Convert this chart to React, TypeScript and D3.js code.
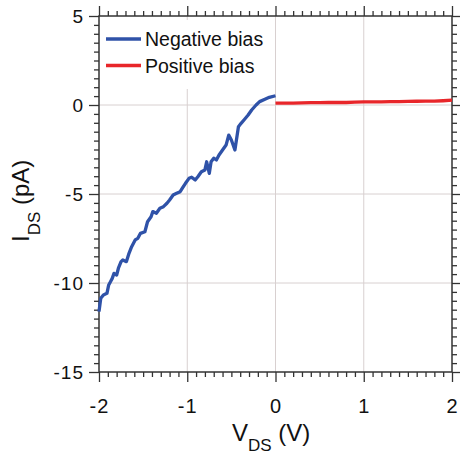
import React, { useEffect, useRef } from 'react';
import * as d3 from 'd3';

// negative bias sweep (V, pA)
const negV = [-2.00, -1.98, -1.95, -1.91, -1.89, -1.87, -1.85, -1.83, -1.80, -1.78, -1.75, -1.73, -1.69, -1.66, -1.63, -1.59, -1.56, -1.53, -1.48, -1.45, -1.41, -1.39, -1.35, -1.31, -1.27, -1.23, -1.20, -1.16, -1.12, -1.08, -1.05, -1.02, -0.98, -0.95, -0.91, -0.88, -0.84, -0.80, -0.78, -0.75, -0.73, -0.70, -0.67, -0.64, -0.60, -0.56, -0.53, -0.50, -0.46, -0.42, -0.39, -0.35, -0.31, -0.27, -0.22, -0.18, -0.12, -0.07, 0.00];
const negI = [-11.61, -10.86, -10.67, -10.58, -10.11, -9.93, -9.74, -9.46, -9.55, -9.17, -8.80, -8.71, -8.80, -8.33, -7.96, -7.58, -7.49, -7.21, -7.12, -6.56, -6.28, -5.99, -6.08, -5.80, -5.71, -5.52, -5.34, -5.06, -4.96, -4.87, -4.63, -4.40, -4.12, -4.06, -4.21, -4.03, -3.75, -3.65, -3.19, -3.84, -3.19, -2.99, -3.09, -2.81, -2.53, -2.25, -1.69, -1.97, -2.53, -1.22, -1.03, -0.80, -0.56, -0.28, 0.00, 0.19, 0.32, 0.43, 0.52];

// positive bias sweep
const posV = [0.0, 0.1, 0.2, 0.3, 0.4, 0.5, 0.6, 0.7, 0.8, 0.9, 1.0, 1.1, 1.2, 1.3, 1.4, 1.5, 1.6, 1.7, 1.8, 1.9, 2.0];
const posI = [0.10, 0.11, 0.11, 0.12, 0.13, 0.13, 0.14, 0.15, 0.14, 0.16, 0.17, 0.17, 0.18, 0.19, 0.19, 0.20, 0.21, 0.22, 0.22, 0.24, 0.27];

const xTicks = [-2, -1, 0, 1, 2];
const yTicks = [5, 0, -5, -10, -15];
const xGrid = [-1, 0, 1];
const yGrid = [0, -5, -10];
const seriesNames = ['Negative bias', 'Positive bias'];
const seriesColors = ['#2f52a8', '#e8262a'];

const FONT = '"Liberation Sans", Arial, sans-serif';
const AXIS = '#333';

const draw = (node) => {
  const svg = d3.select(node);
  svg.selectAll('*').remove();

  const left = 99, right = 452, top = 16, bottom = 372;
  const x = d3.scaleLinear().domain([-2, 2]).range([left, right]);
  const y = d3.scaleLinear().domain([-15, 5]).range([bottom, top]);

  // grid
  svg.append('g').selectAll('line').data(xGrid).join('line')
    .attr('x1', d => x(d)).attr('x2', d => x(d))
    .attr('y1', top).attr('y2', bottom)
    .attr('stroke', '#d8d0d0').attr('stroke-width', 1);
  svg.append('g').selectAll('line').data(yGrid).join('line')
    .attr('x1', left).attr('x2', right)
    .attr('y1', d => y(d)).attr('y2', d => y(d))
    .attr('stroke', '#d8d0d0').attr('stroke-width', 1);

  // legend background hides the grid behind it
  svg.append('rect').attr('x', left + 2).attr('y', 20).attr('width', 168).attr('height', 69).attr('fill', '#fff');

  // ticks on all four sides, pointing outward
  const minorX = d3.range(-20, 21).map(d => d / 10).filter(d => !xTicks.includes(d));
  const minorY = d3.range(-30, 11).map(d => d / 2).filter(d => !yTicks.includes(d));
  const tickSets = [
    [d3.axisBottom(x), `translate(0,${bottom})`, minorX, xTicks],
    [d3.axisTop(x), `translate(0,${top})`, minorX, xTicks],
    [d3.axisLeft(y), `translate(${left},0)`, minorY, yTicks],
    [d3.axisRight(y), `translate(${right},0)`, minorY, yTicks],
  ];
  tickSets.forEach(([ax, tr, minor, major]) => {
    const g1 = svg.append('g').attr('transform', tr)
      .call(ax.tickValues(minor).tickSize(5).tickFormat(() => ''));
    g1.select('.domain').remove();
    const g2 = svg.append('g').attr('transform', tr)
      .call(ax.tickValues(major).tickSize(10).tickFormat(() => ''));
    g2.select('.domain').remove();
  });
  svg.selectAll('.tick line').attr('stroke', AXIS).attr('stroke-width', 1.3);

  // frame
  svg.append('rect').attr('x', left).attr('y', top)
    .attr('width', right - left).attr('height', bottom - top)
    .attr('fill', 'none').attr('stroke', AXIS).attr('stroke-width', 1.5);

  // tick labels
  svg.append('g').selectAll('text').data(yTicks).join('text')
    .attr('x', 84).attr('y', d => y(d) + 6.5)
    .attr('text-anchor', 'end')
    .style('font-family', FONT).style('font-size', '19px').style('letter-spacing', '1px')
    .attr('fill', '#111')
    .text(d => String(d));
  svg.append('g').selectAll('text').data(xTicks).join('text')
    .attr('x', d => x(d) + 0.5).attr('y', 413)
    .attr('text-anchor', 'middle')
    .style('font-family', FONT).style('font-size', '20px').style('letter-spacing', '1px')
    .attr('fill', '#111')
    .text(d => String(d));

  // axis titles
  const xt = svg.append('text').attr('x', 232).attr('y', 441)
    .style('font-family', FONT).attr('fill', '#111');
  xt.append('tspan').style('font-size', '24px').text('V');
  xt.append('tspan').style('font-size', '17px').attr('dy', 10).text('DS');
  xt.append('tspan').style('font-size', '24px').attr('dy', -10).text(' (V)');

  const yt = svg.append('text').attr('transform', 'translate(29,242) rotate(-90)')
    .style('font-family', FONT).attr('fill', '#111');
  yt.append('tspan').style('font-size', '24px').text('I');
  yt.append('tspan').style('font-size', '17px').attr('dy', 11).text('DS');
  yt.append('tspan').style('font-size', '24px').attr('dy', -11).text(' (pA)');

  // curves
  const line = d3.line().x(d => x(d[0])).y(d => y(d[1]));
  const series = [
    negV.map((v, i) => [v, negI[i]]),
    posV.map((v, i) => [v, posI[i]]),
  ];
  series.forEach((pts, i) => {
    svg.append('path').datum(pts)
      .attr('d', line)
      .attr('fill', 'none')
      .attr('stroke', seriesColors[i])
      .attr('stroke-width', 3.3)
      .attr('stroke-linejoin', 'round');
  });

  // legend
  const lg = svg.append('g').selectAll('g').data(seriesNames).join('g')
    .attr('transform', (d, i) => `translate(0,${39 + i * 26.5})`);
  lg.append('line').attr('x1', 106).attr('x2', 141).attr('y1', 0).attr('y2', 0)
    .attr('stroke', (d, i) => seriesColors[i]).attr('stroke-width', 3.3);
  lg.append('text').attr('x', 145).attr('y', 7)
    .style('font-family', FONT).style('font-size', '19.5px').attr('fill', '#111')
    .text(d => d);
};

const App = () => {
  const ref = useRef(null);
  useEffect(() => {
    draw(ref.current);
  }, []);
  return (
    <svg ref={ref} width={460} height={457}
      style={{ position: 'absolute', left: 0, top: 0, background: '#fff' }} />
  );
};

export default App;
